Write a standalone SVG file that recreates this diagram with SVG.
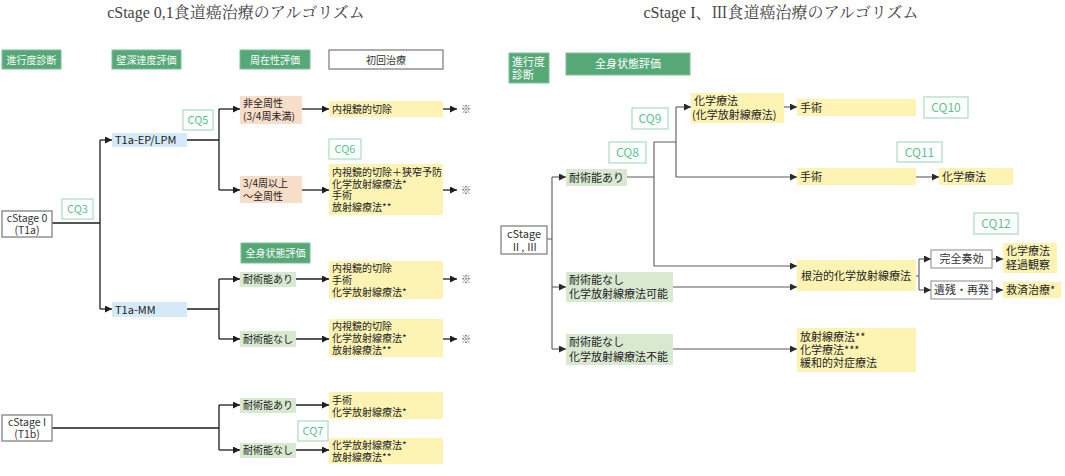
<svg xmlns="http://www.w3.org/2000/svg" width="1065" height="476" viewBox="0 0 1065 476">
<style>
text{font-family:"Noto Sans CJK JP","Noto Sans",sans-serif;fill:#222}
.title{font-family:"Liberation Serif","Noto Serif CJK JP","Noto Sans CJK JP",serif;font-size:16px;fill:#444;text-anchor:middle}
.hdr{fill:#56a877;stroke:#7cc09a;stroke-width:1}
.hdrt{fill:#fff;font-size:10px;text-anchor:middle}
.hdrt2{fill:#fff;font-size:11px}
.wbox{fill:#fff;stroke:#8a8a8a;stroke-width:1.4}
.wt{font-size:10.5px;text-anchor:middle;fill:#333}
.peach{fill:#f8ddc8}
.blue{fill:#d6e9f8}
.lg{fill:#d9e9d1}
.yel{fill:#fdf4b4}
.t10{font-size:10px}
.t11{font-size:11px}
.cq{fill:#fff;stroke:#a9dcc5;stroke-width:1.2}
.cqt{fill:#5dbf95;font-size:11px;text-anchor:middle}
.cqt2{fill:#5dbf95;font-size:12px;text-anchor:middle}
.mark{font-size:10px;fill:#444}
.cl{fill:none;stroke:#1e1e1e;stroke-width:1.3}
.cr{fill:none;stroke:#5a5a5a;stroke-width:1.1}
</style>
<defs>
<marker id="ah" viewBox="0 0 8 8" refX="8" refY="4" markerWidth="7" markerHeight="7" markerUnits="userSpaceOnUse" orient="auto">
<path d="M0,0 L8,4 L0,8 z" fill="#1e1e1e"/>
</marker>
<marker id="ahr" viewBox="0 0 8 8" refX="8" refY="4" markerWidth="7" markerHeight="7" markerUnits="userSpaceOnUse" orient="auto">
<path d="M0,0 L8,4 L0,8 z" fill="#2a2a2a"/>
</marker>
</defs>

<text class="title" x="236" y="18">cStage 0,1食道癌治療のアルゴリズム</text>
<text class="title" x="781" y="18">cStage I、Ⅲ食道癌治療のアルゴリズム</text>

<!-- Left headers -->
<g id="h-shindan"><rect class="hdr" x="2" y="50" width="59" height="19"/><text class="hdrt" x="31.5" y="63.5">進行度診断</text></g>
<g id="h-hekishin"><rect class="hdr" x="112" y="50" width="69" height="19"/><text class="hdrt" x="146.5" y="63.5">壁深達度評価</text></g>
<g id="h-shuzai"><rect class="hdr" x="240" y="50" width="70" height="19"/><text class="hdrt" x="275" y="63.5">周在性評価</text></g>
<g id="h-shokai"><rect class="wbox" x="329" y="50" width="114" height="19"/><text class="wt" x="386" y="63.5" style="font-size:10px">初回治療</text></g>
<g id="h-zenshin-l"><rect class="hdr" x="241" y="243" width="69" height="20"/><text class="hdrt" x="275.5" y="257">全身状態評価</text></g>

<!-- Left connectors -->
<g id="connectors-left">
<path class="cl" d="M52,223 H100 M100,140 V309"/>
<path class="cl" d="M100,140 H112" marker-end="url(#ah)"/>
<path class="cl" d="M100,309 H112" marker-end="url(#ah)"/>
<path class="cl" d="M187,140 H219 M219,109 V190"/>
<path class="cl" d="M219,109 H240" marker-end="url(#ah)"/>
<path class="cl" d="M219,190 H240" marker-end="url(#ah)"/>
<path class="cl" d="M302,109 H329" marker-end="url(#ah)"/>
<path class="cl" d="M302,190 H329" marker-end="url(#ah)"/>
<path class="cl" d="M443,109 H457" marker-end="url(#ah)"/>
<path class="cl" d="M443,190 H457" marker-end="url(#ah)"/>
<path class="cl" d="M187,309 H219 M219,279 V339"/>
<path class="cl" d="M219,279 H240" marker-end="url(#ah)"/>
<path class="cl" d="M219,339 H240" marker-end="url(#ah)"/>
<path class="cl" d="M296,279 H329" marker-end="url(#ah)"/>
<path class="cl" d="M296,339 H329" marker-end="url(#ah)"/>
<path class="cl" d="M443,279 H457" marker-end="url(#ah)"/>
<path class="cl" d="M443,339 H457" marker-end="url(#ah)"/>
<path class="cl" d="M52,428 H219 M219,405 V450"/>
<path class="cl" d="M219,405 H240" marker-end="url(#ah)"/>
<path class="cl" d="M219,450 H240" marker-end="url(#ah)"/>
<path class="cl" d="M296,405 H329" marker-end="url(#ah)"/>
<path class="cl" d="M296,450 H329" marker-end="url(#ah)"/>
</g>

<!-- Left nodes -->
<g id="n-cstage0"><rect class="wbox" x="2" y="211" width="50" height="26"/><text class="wt" x="27" y="222">cStage 0<tspan x="27" dy="12">(T1a)</tspan></text></g>
<g id="n-cstage1"><rect class="wbox" x="2" y="415" width="50" height="26"/><text class="wt" x="27" y="426">cStage I<tspan x="27" dy="12">(T1b)</tspan></text></g>
<g id="cq3"><rect class="cq" x="62" y="199" width="31" height="20"/><text class="cqt" x="77.5" y="213">CQ3</text></g>
<g id="cq5"><rect class="cq" x="183" y="110" width="30" height="20"/><text class="cqt" x="198" y="124">CQ5</text></g>
<g id="cq6"><rect class="cq" x="329" y="139" width="32" height="20"/><text class="cqt" x="345" y="153">CQ6</text></g>
<g id="cq7"><rect class="cq" x="298" y="421" width="30" height="20"/><text class="cqt" x="313" y="435">CQ7</text></g>

<g id="n-ep"><rect class="blue" x="112" y="133" width="75" height="14"/><text class="t11" x="115" y="144">T1a-EP/LPM</text></g>
<g id="n-mm"><rect class="blue" x="112" y="302" width="75" height="15"/><text class="t11" x="115" y="313.5">T1a-MM</text></g>

<g id="n-hizenshu"><rect class="peach" x="240" y="96" width="62" height="28"/><text class="t10" x="243" y="107">非全周性<tspan x="243" dy="13">(3/4周未満)</tspan></text></g>
<g id="n-zenshu"><rect class="peach" x="240" y="176" width="62" height="27"/><text class="t10" x="243" y="187">3/4周以上<tspan x="243" dy="13">～全周性</tspan></text></g>

<g id="n-ari1"><rect class="lg" x="240" y="272" width="56" height="15"/><text class="t10" x="243" y="283">耐術能あり</text></g>
<g id="n-nashi1"><rect class="lg" x="240" y="331" width="56" height="16"/><text class="t10" x="243" y="343">耐術能なし</text></g>
<g id="n-ari2"><rect class="lg" x="240" y="398" width="56" height="15"/><text class="t10" x="243" y="409">耐術能あり</text></g>
<g id="n-nashi2"><rect class="lg" x="240" y="443" width="56" height="15"/><text class="t10" x="243" y="454">耐術能なし</text></g>

<g id="n-t1"><rect class="yel" x="329" y="101" width="114" height="16"/><text class="t10" x="332" y="113">内視鏡的切除</text></g>
<g id="n-t2"><rect class="yel" x="329" y="164" width="114" height="51"/>
<text class="t10" x="332" y="176">内視鏡的切除＋狭窄予防<tspan x="332" dy="11.5">化学放射線療法*</tspan><tspan x="332" dy="11.5">手術</tspan><tspan x="332" dy="11.5">放射線療法**</tspan></text></g>
<g id="n-t3"><rect class="yel" x="329" y="261" width="114" height="38"/>
<text class="t10" x="332" y="272">内視鏡的切除<tspan x="332" dy="12">手術</tspan><tspan x="332" dy="12">化学放射線療法*</tspan></text></g>
<g id="n-t4"><rect class="yel" x="329" y="319" width="114" height="38"/>
<text class="t10" x="332" y="330">内視鏡的切除<tspan x="332" dy="12">化学放射線療法*</tspan><tspan x="332" dy="12">放射線療法**</tspan></text></g>
<g id="n-t5"><rect class="yel" x="329" y="392" width="114" height="27"/>
<text class="t10" x="332" y="404">手術<tspan x="332" dy="12">化学放射線療法*</tspan></text></g>
<g id="n-t6"><rect class="yel" x="329" y="438" width="114" height="26"/>
<text class="t10" x="332" y="449">化学放射線療法*<tspan x="332" dy="12">放射線療法**</tspan></text></g>

<g id="marks">
<text class="mark" x="461" y="113">※</text>
<text class="mark" x="461" y="194">※</text>
<text class="mark" x="461" y="283">※</text>
<text class="mark" x="461" y="343">※</text>
</g>

<!-- Right headers -->
<g id="h-shindan-r"><rect class="hdr" x="509" y="53" width="40" height="30"/><text class="hdrt2" x="512" y="66">進行度<tspan x="512" dy="13">診断</tspan></text></g>
<g id="h-zenshin-r"><rect class="hdr" x="566" y="53" width="124" height="22"/><text class="hdrt" style="font-size:11px" x="628" y="68">全身状態評価</text></g>

<!-- Right connectors -->
<g id="connectors-right">
<path class="cr" d="M547,239 H552 M552,177 V349"/>
<path class="cr" d="M552,177 H566" marker-end="url(#ahr)"/>
<path class="cr" d="M552,287 H566" marker-end="url(#ahr)"/>
<path class="cr" d="M552,349 H566" marker-end="url(#ahr)"/>
<path class="cr" d="M627,177 H654 M654,142 V266 M654,142 H676 M676,107 V177"/>
<path class="cr" d="M676,107 H691" marker-end="url(#ahr)"/>
<path class="cr" d="M676,177 H797" marker-end="url(#ahr)"/>
<path class="cr" d="M654,266 H797" marker-end="url(#ahr)"/>
<path class="cr" d="M784,107 H797" marker-end="url(#ahr)"/>
<path class="cr" d="M916,177 H939" marker-end="url(#ahr)"/>
<path class="cr" d="M673,287 H797" marker-end="url(#ahr)"/>
<path class="cr" d="M673,349 H797" marker-end="url(#ahr)"/>
<path class="cr" d="M916,276 H919 M919,259 V290"/>
<path class="cr" d="M919,259 H931" marker-end="url(#ahr)"/>
<path class="cr" d="M919,290 H931" marker-end="url(#ahr)"/>
<path class="cr" d="M992,259 H1003" marker-end="url(#ahr)"/>
<path class="cr" d="M992,290 H1003" marker-end="url(#ahr)"/>
</g>

<!-- Right nodes -->
<g id="n-cstage23"><rect class="wbox" x="501" y="226" width="46" height="28"/><text class="wt" style="font-size:11px" x="524" y="238">cStage<tspan x="524" dy="12.5" style="font-size:10.5px">Ⅱ, Ⅲ</tspan></text></g>
<g id="cq8"><rect class="cq" x="609" y="142" width="37" height="21"/><text class="cqt2" x="627.5" y="157">CQ8</text></g>
<g id="cq9"><rect class="cq" x="632" y="108" width="36" height="21"/><text class="cqt2" x="650" y="123">CQ9</text></g>
<g id="cq10"><rect class="cq" x="924" y="97" width="44" height="21"/><text class="cqt2" x="946" y="112">CQ10</text></g>
<g id="cq11"><rect class="cq" x="897" y="142" width="45" height="20"/><text class="cqt2" x="919.5" y="156.5">CQ11</text></g>
<g id="cq12"><rect class="cq" x="974" y="213" width="44" height="21"/><text class="cqt2" x="996" y="228">CQ12</text></g>

<g id="n-ari-r"><rect class="lg" x="566" y="169" width="61" height="17"/><text class="t11" x="569" y="181.5">耐術能あり</text></g>
<g id="n-kano"><rect class="lg" x="566" y="272" width="107" height="30"/><text class="t11" x="569" y="284">耐術能なし<tspan x="569" dy="14">化学放射線療法可能</tspan></text></g>
<g id="n-funo"><rect class="lg" x="566" y="334" width="107" height="31"/><text class="t11" x="569" y="346">耐術能なし<tspan x="569" dy="14.5">化学放射線療法不能</tspan></text></g>

<g id="n-chemo1"><rect class="yel" x="691" y="93" width="93" height="30"/><text class="t11" x="694" y="105">化学療法<tspan x="692" dy="14">(化学放射線療法)</tspan></text></g>
<g id="n-ope1"><rect class="yel" x="797" y="99" width="119" height="17"/><text class="t11" x="800" y="111.5">手術</text></g>
<g id="n-ope2"><rect class="yel" x="797" y="168" width="119" height="17"/><text class="t11" x="800" y="180.5">手術</text></g>
<g id="n-chemo2"><rect class="yel" x="939" y="168" width="74" height="17"/><text class="t11" x="942" y="180.5">化学療法</text></g>
<g id="n-crt"><rect class="yel" x="797" y="260" width="119" height="31"/><text class="t11" x="801" y="279.5">根治的化学放射線療法</text></g>
<g id="n-pal"><rect class="yel" x="797" y="328" width="119" height="44"/><text class="t11" x="800" y="341">放射線療法**<tspan x="800" dy="13">化学療法***</tspan><tspan x="800" dy="13">緩和的対症療法</tspan></text></g>
<g id="n-cr"><rect class="wbox" x="931" y="250" width="61" height="18" style="stroke-width:1"/><text class="wt" style="font-size:11px" x="961.5" y="263">完全奏効</text></g>
<g id="n-rec"><rect class="wbox" x="931" y="281" width="61" height="18" style="stroke-width:1"/><text class="wt" style="font-size:11px" x="961.5" y="294">遺残・再発</text></g>
<g id="n-obs"><rect class="yel" x="1003" y="243" width="54" height="30"/><text class="t11" x="1006" y="255">化学療法<tspan x="1006" dy="14">経過観察</tspan></text></g>
<g id="n-salv"><rect class="yel" x="1003" y="282" width="58" height="16"/><text class="t11" x="1006" y="294">救済治療*</text></g>
</svg>
